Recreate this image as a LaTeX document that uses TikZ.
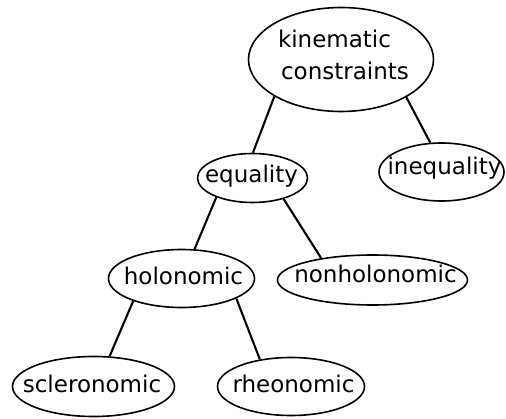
\documentclass[tikz,border=0pt]{standalone}
\usepackage{fontspec}
\setmainfont{DejaVu Sans}
\usetikzlibrary{shapes.geometric}
\tikzset{
  ell/.style={draw, ellipse, line width=1.6pt, inner sep=0pt},
  lbl/.style={inner sep=0pt, anchor=base, font=\fontsize{23}{30}\selectfont},
  edge/.style={line width=2.1pt}
}
\begin{document}
\begin{tikzpicture}[x=1pt,y=-1pt]
\useasboundingbox (0,0) rectangle (506,419);
\node[ell, minimum width=185pt, minimum height=104pt] (kc) at (341,59.5) {};
\node[lbl] (kct1) at (334.5,48) {kinematic};
\node[lbl] (kct2) at (345,80) {constraints};
\node[ell, minimum width=110pt, minimum height=49pt] (eq) at (252.5,178) {};
\node[lbl] (eqt) at (251.5,183) {equality};
\node[ell, minimum width=125pt, minimum height=58pt] (ineq) at (441.5,172) {};
\node[lbl] (ineqt) at (444.5,175) {inequality};
\node[ell, minimum width=146pt, minimum height=58pt] (hol) at (181.5,278.5) {};
\node[lbl] (holt) at (183.5,285) {holonomic};
\node[ell, minimum width=190pt, minimum height=50pt] (nh) at (372.5,280) {};
\node[lbl] (nht) at (375.5,283) {nonholonomic};
\node[ell, minimum width=162pt, minimum height=60pt] (scl) at (93.5,386.5) {};
\node[lbl] (sclt) at (92,392) {scleronomic};
\node[ell, minimum width=147pt, minimum height=58pt] (rh) at (291,386.5) {};
\node[lbl] (rht) at (293.5,392) {rheonomic};
\draw[edge] (kc.209) -- (eq.89);
\draw[edge] (kc.330) -- (ineq.111);
\draw[edge] (eq.208) -- (hol.66);
\draw[edge] (eq.326) -- (nh.157);
\draw[edge] (hol.205) -- (scl.62);
\draw[edge] (hol.340) -- (rh.139);
\end{tikzpicture}
\end{document}
